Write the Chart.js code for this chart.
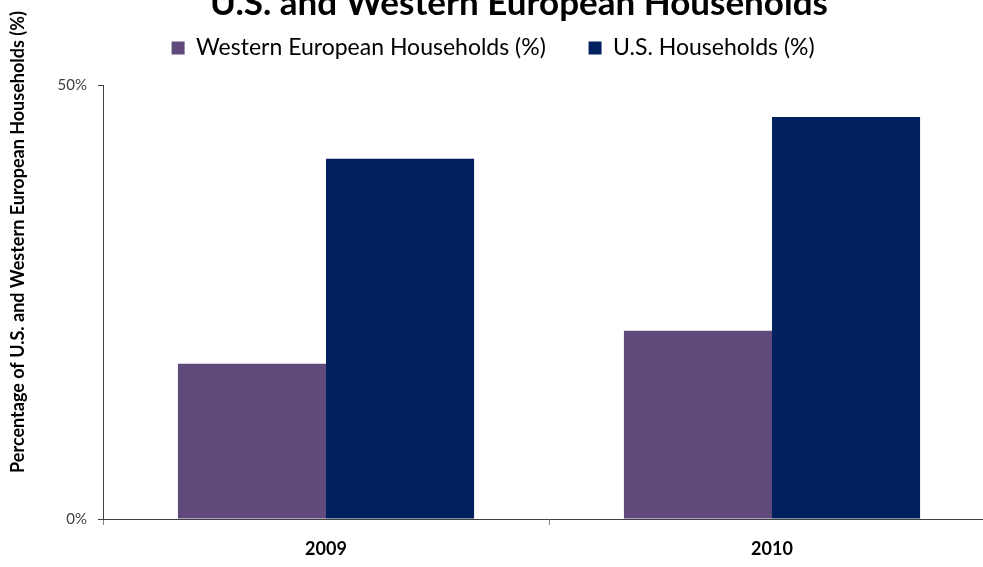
<!DOCTYPE html>
<html>
<head>
<meta charset="utf-8">
<script src="https://cdn.jsdelivr.net/npm/chart.js@4/dist/chart.umd.min.js"></script>
<style>
    html, body { margin: 0; padding: 0; background: #fff; overflow: hidden; }
    #wrap { position: absolute; left: 0; top: -16px; width: 1000px; height: 583px; }
</style>
</head>
<body>
<div id="wrap"><canvas id="barChart"></canvas></div>
<script>
const years = ['2009', '2010'];
const westernEurope = [17.9, 21.7];
const usHouseholds = [41.5, 46.3];
const yTicks = [0, 50];

const FONT = 'Lato, "Open Sans", sans-serif';

// rotated y-axis title, placed like the original (not centred on the axis)
const yTitlePlugin = {
    id: 'yTitle',
    afterDraw(chart) {
        const ctx = chart.ctx;
        ctx.save();
        ctx.translate(18, 258);
        ctx.rotate(-Math.PI / 2);
        ctx.font = 'bold 18px ' + FONT;
        ctx.fillStyle = '#000';
        ctx.textAlign = 'center';
        ctx.textBaseline = 'middle';
        ctx.fillText('Percentage of U.S. and Western European Households (%)', 0, 0);
        ctx.restore();
    }
};

new Chart(document.getElementById('barChart'), {
    type: 'bar',
    data: {
        labels: years,
        datasets: [
            { label: 'Western European Households (%)', data: westernEurope, backgroundColor: '#604a7b', borderWidth: 0 },
            { label: 'U.S. Households (%)', data: usHouseholds, backgroundColor: '#002060', borderWidth: 0 }
        ]
    },
    options: {
        responsive: true, maintainAspectRatio: false, animation: false,
        categoryPercentage: 0.664, barPercentage: 1,
        layout: { padding: { left: 43, right: 5, top: 0, bottom: 0 } },
        plugins: {
            tooltip: { enabled: false },
            title: {
                display: true, text: 'U.S. and Western European Households', color: '#000',
                font: { family: FONT, size: 35, weight: 'bold' }, padding: { top: -1.5, bottom: -13.5 }
            },
            // empty subtitle used as a spacer between legend and plot
            subtitle: {
                display: true, text: ' ', weight: 500,
                font: { size: 10 }, padding: { top: 2, bottom: 1.5 }
            },
            legend: {
                position: 'top',
                labels: {
                    color: '#000', boxWidth: 13, boxHeight: 13, padding: 25.5,
                    font: { family: FONT, size: 23 },
                    generateLabels(chart) {
                        const items = Chart.defaults.plugins.legend.labels.generateLabels(chart);
                        items[0].text += '\u2003';
                        items[1].text += '\u2003\u2003\u2003';
                        return items;
                    }
                }
            }
        },
        scales: {
            x: {
                grid: { display: true, offset: true, drawOnChartArea: false, tickLength: 6, color: '#808080' },
                border: { color: '#404040', width: 1 },
                ticks: { color: '#000', padding: 13, font: { family: FONT, size: 18, weight: 'bold' } },
                afterFit(scale) { scale.height = 48; }
            },
            y: {
                min: 0, max: 50,
                afterBuildTicks(scale) { scale.ticks = yTicks.map(v => ({ value: v })); },
                grid: { drawOnChartArea: false, tickLength: 5, color: '#404040' },
                border: { color: '#404040', width: 1 },
                ticks: { color: '#404040', padding: 11, font: { family: FONT, size: 15 }, callback: v => v + '%' },
                afterFit(scale) { scale.width = 60; }
            }
        }
    },
    plugins: [yTitlePlugin]
});
</script>
</body>
</html>
